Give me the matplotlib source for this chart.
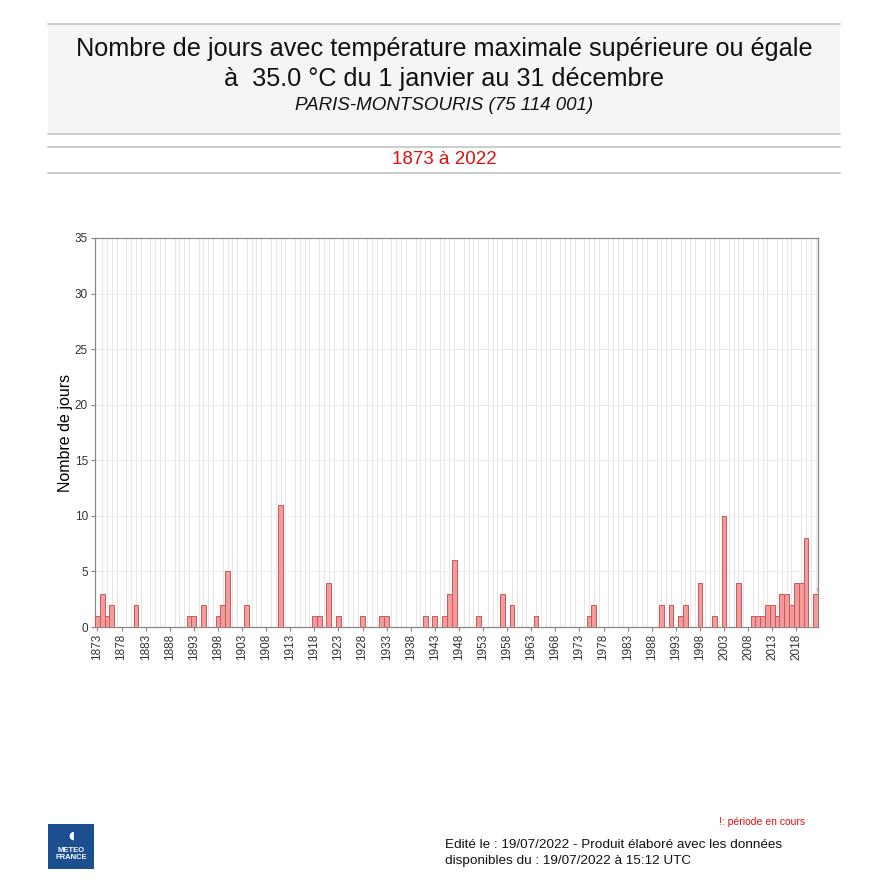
import matplotlib
matplotlib.use('Agg')
import matplotlib.pyplot as plt
import numpy as np
from matplotlib.patches import Rectangle

plt.rcParams['font.family'] = ['Liberation Sans', 'DejaVu Sans']

# years with at least one day >= 35 degC (all other years are 0)
hot_years = [1873, 1874, 1875, 1876, 1881, 1892, 1893, 1895, 1898, 1899,
             1900, 1904, 1911, 1918, 1919, 1921, 1923, 1928, 1932, 1933,
             1941, 1943, 1945, 1946, 1947, 1952, 1957, 1959, 1964, 1975,
             1976, 1990, 1992, 1994, 1995, 1998, 2001, 2003, 2006, 2009,
             2010, 2011, 2012, 2013, 2014, 2015, 2016, 2017, 2018, 2019,
             2020, 2022]
hot_days = [1, 3, 1, 2, 2, 1, 1, 2, 1, 2,
            5, 2, 11, 1, 1, 4, 1, 1, 1, 1,
            1, 1, 1, 3, 6, 1, 3, 2, 1, 1,
            2, 2, 2, 1, 2, 4, 1, 10, 4, 1,
            1, 1, 2, 2, 1, 3, 3, 2, 4, 4,
            8, 3]

first_year, last_year = 1873, 2022
years = np.arange(first_year, last_year + 1)
counts = np.zeros(len(years))
for y, d in zip(hot_years, hot_days):
    counts[y - first_year] = d

title_1 = "Nombre de jours avec température maximale supérieure ou égale"
title_2 = "à  35.0 °C du 1 janvier au 31 décembre"
station = "PARIS-MONTSOURIS (75 114 001)"
period = "1873 à 2022"
ylabel = "Nombre de jours"
footer = ("Edité le : 19/07/2022 - Produit élaboré avec les données\n"
          "disponibles du : 19/07/2022 à 15:12 UTC")
note = "!: période en cours"

W = H = 889
fig = plt.figure(figsize=(W / 100, H / 100), dpi=100)


def fx(px):
    return px / W


def fy(py):
    return 1 - py / H


# header block
fig.patches.append(Rectangle((fx(48), fy(134)), fx(840 - 48), (134 - 24) / H,
                             transform=fig.transFigure, facecolor='#f5f5f5',
                             edgecolor='none', zorder=0))
for yy in [24, 134, 147, 173]:
    fig.add_artist(plt.Line2D([fx(48), fx(840)], [fy(yy), fy(yy)],
                              transform=fig.transFigure, color='#c4c4c4', lw=1.2))

fig.text(0.5, fy(49), title_1, ha='center', va='center', fontsize=18.2, color='#111111')
fig.text(0.5, fy(79), title_2, ha='center', va='center', fontsize=18.2, color='#111111')
fig.text(0.5, fy(106), station, ha='center', va='center', fontsize=13.5,
         style='italic', color='#111111')
fig.text(0.5, fy(160), period, ha='center', va='center', fontsize=13.5, color='#dd1111')

ax = fig.add_axes([fx(95), fy(627), fx(818 - 95), (627 - 238) / H])
ax.bar(years, counts, width=1.0, align='center', color='#f59a9a',
       edgecolor='#c85a5a', linewidth=0.7, zorder=3)

# small marker for the ongoing year
ax.text(last_year + 0.3, counts[-1] + 0.1, '!', color='#e06060', fontsize=4,
        ha='center', va='bottom', zorder=4)

ax.set_xlim(first_year - 0.5, last_year + 0.5)
ax.set_ylim(0, 35)
ax.set_yticks(np.arange(0, 36, 5))
ax.set_xticks(np.arange(first_year, last_year + 1, 5))
ax.set_xticks(years, minor=True)
ax.tick_params(axis='x', which='major', labelrotation=90, labelsize=8.5, length=3,
               color='#888888', pad=2, labelcolor='#333333')
ax.tick_params(axis='x', which='minor', length=0)
ax.tick_params(axis='y', labelsize=8.5, length=3, color='#888888', pad=2,
               labelcolor='#333333')
ax.grid(True, axis='x', which='minor', color='#e6e6e6', lw=0.7, zorder=0)
ax.grid(True, axis='y', which='major', color='#ececec', lw=0.7, zorder=0)
for sp in ax.spines.values():
    sp.set_color('#888888')
    sp.set_linewidth(0.9)
ax.set_ylabel(ylabel, fontsize=11.5)
ax.yaxis.set_label_coords(-0.03, 0.5)

# logo
fig.patches.append(Rectangle((fx(48), fy(869)), fx(94 - 48), (869 - 824) / H,
                             transform=fig.transFigure, facecolor='#1c4f8f',
                             edgecolor='none'))
fig.text(fx(71), fy(836), '◖', ha='center', va='center', fontsize=8, color='white',
         family='DejaVu Sans')
fig.text(fx(71), fy(854), 'METEO\nFRANCE', ha='center', va='center', fontsize=5.5,
         color='white', weight='bold', linespacing=1.0)

fig.text(fx(805), fy(822), note, ha='right', va='center', fontsize=7.5, color='#dd1111')
fig.text(fx(445), fy(853), footer, ha='left', va='center', fontsize=9.7,
         color='#111111', linespacing=1.35)

fig.savefig('out.png', dpi=100)
